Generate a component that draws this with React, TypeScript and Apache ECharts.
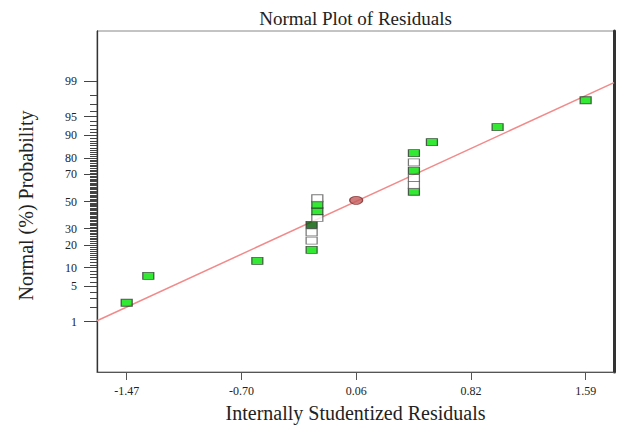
import React, { useEffect, useRef } from "react";
import * as echarts from "echarts";

const titleText = "Normal Plot of Residuals";
const xName = "Internally Studentized Residuals";
const yName = "Normal (%) Probability";

const xTickValues = [-1.47, -0.705, 0.06, 0.825, 1.59];
const xTickLabels = ["-1.47", "-0.70", "0.06", "0.82", "1.59"];
const xMin = -1.668;
const xMax = 1.779;

const yTickPercents = [1, 5, 10, 20, 30, 50, 70, 80, 90, 95, 99];
const yMinZ = -3.3;
const yMaxZ = 3.3;

const residuals = [
  -1.47, -1.326, -0.599, -0.237, -0.237, -0.237, -0.237, -0.199, -0.199, -0.199,
  -0.199, 0.445, 0.445, 0.445, 0.445, 0.445, 0.445, 0.565, 1.003, 1.59,
];
const probabilities = [
  2.5, 7.5, 12.5, 17.5, 22.5, 27.5, 32.5, 37.5, 42.5, 47.5,
  52.5, 57.5, 62.5, 67.5, 72.5, 77.5, 82.5, 87.5, 92.5, 97.5,
];
const pointGroups = [
  "g", "g", "g", "g", "w", "w", "d", "w", "g", "g",
  "w", "g", "w", "w", "g", "w", "g", "g", "g", "g",
];

const centerPoint = [0.06, 50.9];
const lineX = [xMin, xMax];
const linePercents = [1.05, 98.93];

const groupColors: Record<string, string> = { g: "#00e400", w: "#ffffff", d: "#005a00" };

function probit(p: number): number {
  const a = [-3.969683028665376e1, 2.209460984245205e2, -2.759285104469687e2, 1.38357751867269e2, -3.066479806614716e1, 2.506628277459239];
  const b = [-5.447609879822406e1, 1.615858368580409e2, -1.556989798598866e2, 6.680131188771972e1, -1.328068155288572e1];
  const c = [-7.784894002430293e-3, -3.223964580411365e-1, -2.400758277161838, -2.549732539343734, 4.374664141464968, 2.938163982698783];
  const d = [7.784695709041462e-3, 3.224671290700398e-1, 2.445134137142996, 3.754408661907416];
  const plow = 0.02425;
  if (p < plow) {
    const q = Math.sqrt(-2 * Math.log(p));
    return (((((c[0] * q + c[1]) * q + c[2]) * q + c[3]) * q + c[4]) * q + c[5]) / ((((d[0] * q + d[1]) * q + d[2]) * q + d[3]) * q + 1);
  }
  if (p <= 1 - plow) {
    const q = p - 0.5;
    const r = q * q;
    return ((((((a[0] * r + a[1]) * r + a[2]) * r + a[3]) * r + a[4]) * r + a[5]) * q) / (((((b[0] * r + b[1]) * r + b[2]) * r + b[3]) * r + b[4]) * r + 1);
  }
  const q = Math.sqrt(-2 * Math.log(1 - p));
  return -(((((c[0] * q + c[1]) * q + c[2]) * q + c[3]) * q + c[4]) * q + c[5]) / ((((d[0] * q + d[1]) * q + d[2]) * q + d[3]) * q + 1);
}

const serif = '"Liberation Serif", "Times New Roman", serif';

export default function App() {
  const ref = useRef<HTMLDivElement>(null);
  useEffect(() => {
    if (!ref.current) return;
    const chart = echarts.init(ref.current, null, { renderer: "svg" });
    const majorZ = yTickPercents.map((p) => probit(p / 100));
    const minorZ: number[] = [];
    for (let i = 1; i <= 99; i++) minorZ.push(probit(i / 100));

    const pts = residuals.map((x, i) => ({
      value: [x, probit(probabilities[i] / 100)],
      itemStyle: {
        color: groupColors[pointGroups[i]],
        borderColor: pointGroups[i] === "w" ? "#555" : "#333",
        borderWidth: 1,
      },
    }));

    chart.setOption({
      animation: false,
      backgroundColor: "#fff",
      graphic: [
        {
          type: "text",
          x: 355.5,
          y: 18,
          style: {
            text: titleText,
            font: `19px ${serif}`,
            fill: "#222",
            align: "center",
            verticalAlign: "middle",
          },
        },
      ],
      grid: {
        left: 97,
        top: 31,
        right: 4,
        bottom: 57,
        show: true,
        borderColor: "#888",
        borderWidth: 1,
        backgroundColor: "#fff",
      },
      xAxis: {
        type: "value",
        min: xMin,
        max: xMax,
        name: xName,
        nameLocation: "middle",
        nameGap: 31,
        nameTextStyle: { fontFamily: serif, fontSize: 20, color: "#222" },
        axisLine: { show: true, onZero: false, lineStyle: { color: "#555", width: 1 } },
        axisTick: { show: true, length: 8, customValues: xTickValues, lineStyle: { color: "#555" } },
        axisLabel: {
          customValues: xTickValues,
          margin: 13,
          fontFamily: serif,
          fontSize: 12,
          color: "#222",
          formatter: (v: number) => {
            let best = 0;
            xTickValues.forEach((t, i) => {
              if (Math.abs(t - v) < Math.abs(xTickValues[best] - v)) best = i;
            });
            return xTickLabels[best];
          },
        },
        splitLine: { show: false },
      },
      yAxis: [
        {
          type: "value",
          min: yMinZ,
          max: yMaxZ,
          name: yName,
          nameLocation: "middle",
          nameGap: 61,
          nameTextStyle: { fontFamily: serif, fontSize: 20, color: "#222", padding: [0, 0, 0, -8] },
          axisLine: { show: true, onZero: false, lineStyle: { color: "#333", width: 1.3 } },
          axisTick: { show: true, length: 13, customValues: majorZ, lineStyle: { color: "#444" } },
          axisLabel: {
            customValues: majorZ,
            margin: 20,
            fontFamily: serif,
            fontSize: 12,
            color: "#222",
            formatter: (v: number) => {
              let best = 0;
              majorZ.forEach((t, i) => {
                if (Math.abs(t - v) < Math.abs(majorZ[best] - v)) best = i;
              });
              return String(yTickPercents[best]);
            },
          },
          splitLine: { show: false },
        },
        {
          type: "value",
          min: yMinZ,
          max: yMaxZ,
          position: "left",
          axisLine: { show: false, onZero: false },
          axisTick: { show: true, length: 7, customValues: minorZ, lineStyle: { color: "#444", width: 1 } },
          axisLabel: { show: false },
          splitLine: { show: false },
        },
        {
          type: "value",
          min: yMinZ,
          max: yMaxZ,
          position: "right",
          axisLine: { show: true, onZero: false, lineStyle: { color: "#333", width: 3 } },
          axisTick: { show: false },
          axisLabel: { show: false },
          splitLine: { show: false },
        },
      ],
      series: [
        {
          type: "line",
          yAxisIndex: 0,
          data: lineX.map((x, i) => [x, probit(linePercents[i] / 100)]),
          symbol: "none",
          lineStyle: { color: "#f28a8a", width: 1.5 },
          silent: true,
          z: 2,
        },
        {
          type: "scatter",
          yAxisIndex: 0,
          symbol: "rect",
          symbolSize: [11, 7],
          data: pts,
          z: 3,
        },
        {
          type: "scatter",
          yAxisIndex: 0,
          symbol: "circle",
          symbolSize: [13, 8],
          data: [[centerPoint[0], probit(centerPoint[1] / 100)]],
          itemStyle: { color: "#c45a5a", borderColor: "#7a2a2a", borderWidth: 1 },
          z: 4,
        },
      ],
    });
    return () => chart.dispose();
  }, []);
  return (
    <div
      ref={ref}
      style={{ position: "fixed", left: 0, top: 0, width: 618, height: 429, background: "#fff" }}
    />
  );
}
